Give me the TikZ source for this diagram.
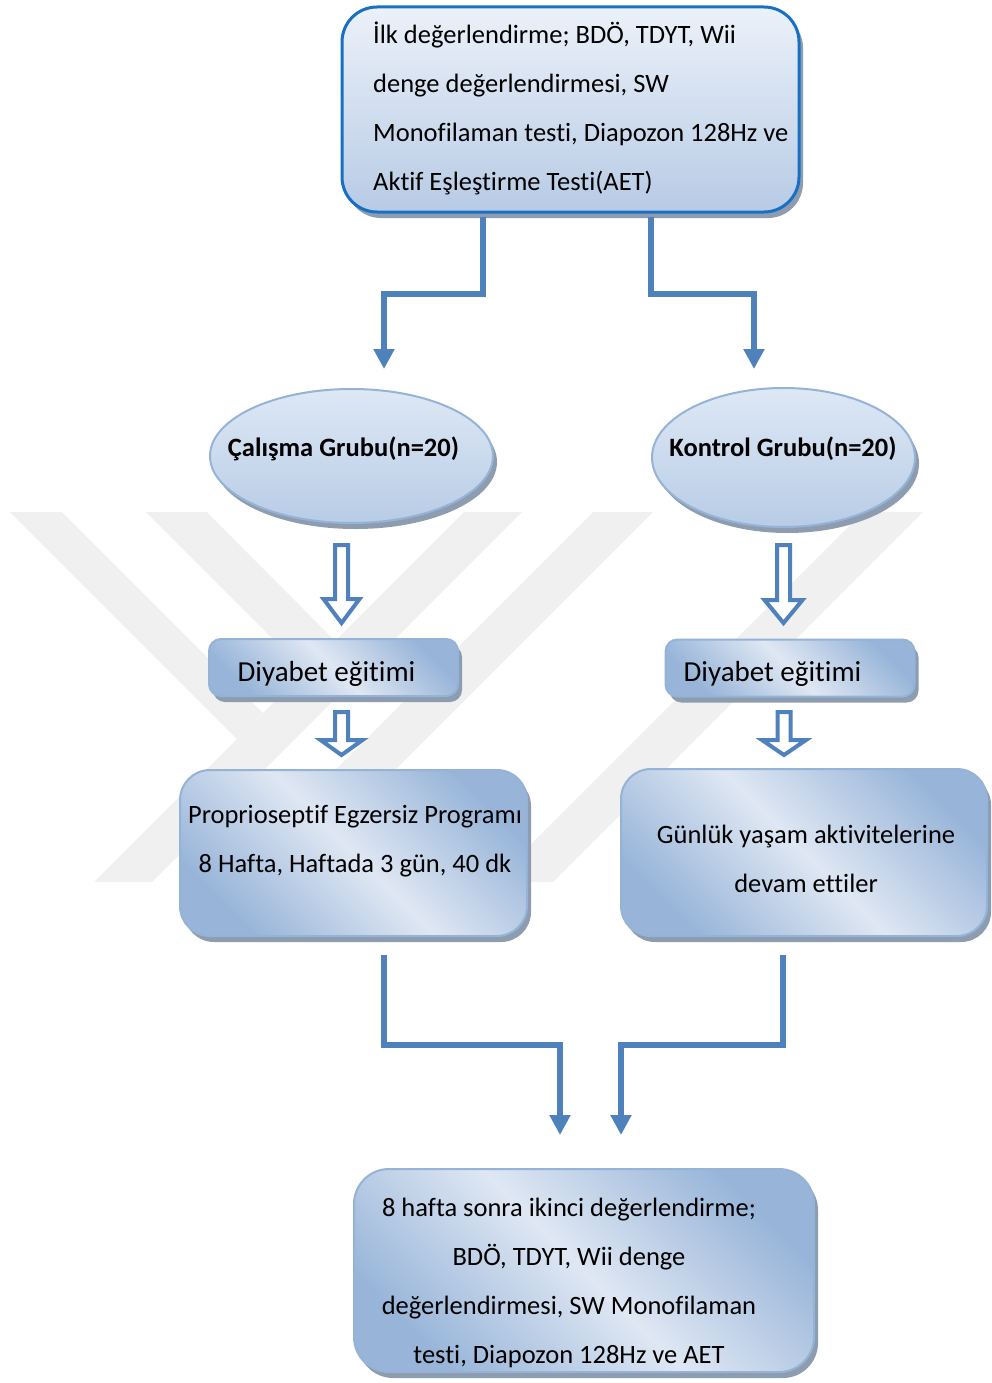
\documentclass[tikz,border=0pt]{standalone}
\usepackage{fontspec}
\setmainfont{Carlito}[Ligatures=NoCommon]
\usetikzlibrary{arrows.meta,shapes.geometric,shadows}

\definecolor{linkblue}{RGB}{79,129,189}
\definecolor{frameblue}{RGB}{24,112,196}
\definecolor{edgeblue}{RGB}{149,179,215}
\definecolor{shadegray}{RGB}{142,156,176}
\definecolor{paleblue}{RGB}{223,231,243}
\definecolor{deepblue}{RGB}{152,181,217}
\definecolor{toplight}{RGB}{236,241,249}
\definecolor{topdark}{RGB}{183,203,229}
\definecolor{elltop}{RGB}{222,232,245}
\definecolor{ellbot}{RGB}{184,204,230}
\definecolor{wmgray}{RGB}{240,240,240}

\tikzset{
  conn/.style={draw=linkblue, line width=6pt, -{Triangle[length=20pt,width=20pt]}},
  hollow/.style={draw=linkblue, fill=white, line width=4pt, line join=miter},
  dropsh/.style={drop shadow={shadow xshift=4pt, shadow yshift=-6pt, fill=shadegray, opacity=1}},
  topbox/.style={dropsh, rectangle, rounded corners=35pt, draw=frameblue, line width=3pt,
    top color=toplight, bottom color=topdark, inner sep=0pt},
  grpell/.style={dropsh, ellipse, draw=edgeblue, line width=2pt,
    top color=elltop, bottom color=ellbot, inner sep=0pt},
  stepbox/.style={dropsh, rectangle, draw=edgeblue, line width=2pt, inner sep=0pt,
    top color=deepblue, bottom color=deepblue, middle color=paleblue, shading angle=-45},
  txt/.style={font=\fontsize{26.5}{49}\selectfont, inner sep=0pt, align=center},
  boldtxt/.style={font=\fontsize{26.5}{49}\selectfont\bfseries, inner sep=0pt},
}

% hollow block arrow: x, top, head start, tip, half head width
\newcommand{\blockarrow}[5]{%
  \draw[hollow] (#1-6.5,#2) -- (#1+6.5,#2) -- (#1+6.5,#3) -- (#1+#5,#3) -- (#1,#4)
    -- (#1-#5,#3) -- (#1-6.5,#3) -- cycle;}

\begin{document}
\begin{tikzpicture}[x=1pt,y=-1pt]
\useasboundingbox (0,0) rectangle (992,1383);

% faint background watermark
\fill[wmgray] (10,512) -- (62,512) -- (263,713) -- (237,739) -- cycle;
\fill[wmgray] (146,512) -- (207,512) -- (335,641) -- (305,671) -- cycle;
\fill[wmgray] (464,512) -- (522,512) -- (152,882) -- (94,882) -- cycle;
\fill[wmgray] (593,512) -- (653,512) -- (283,882) -- (223,882) -- cycle;
\fill[wmgray] (863,512) -- (923,512) -- (553,882) -- (493,882) -- cycle;

% first assessment
\node[topbox, minimum width=457pt, minimum height=205pt] (ilk) at (570.5,109.5) {};
\node[txt, align=left, anchor=west] (ilktxt) at (373,108)
  {İlk değerlendirme; BDÖ, TDYT, Wii\\denge değerlendirmesi, SW\\Monofilaman testi, Diapozon 128Hz ve\\Aktif Eşleştirme Testi(AET)};

% groups
\node[grpell, minimum width=283pt, minimum height=134pt] (cg) at (351.5,456) {};
\node[boldtxt] (cgtxt) at (343.5,449) {Çalışma Grubu(n=20)};
\node[grpell, minimum width=263pt, minimum height=139pt] (kg) at (783.5,457.5) {};
\node[boldtxt] (kgtxt) at (783,449) {Kontrol Grubu(n=20)};

% education
\node[stepbox, rounded corners=12pt, minimum width=249pt, minimum height=57pt] (de1) at (333.5,667.5) {};
\node[txt, font=\fontsize{29}{35}\selectfont] (de1txt) at (326.5,674) {Diyabet eğitimi};
\node[stepbox, rounded corners=12pt, minimum width=249pt, minimum height=57pt] (de2) at (790,668) {};
\node[txt, font=\fontsize{29}{35}\selectfont] (de2txt) at (772.5,674) {Diyabet eğitimi};

% programmes
\node[stepbox, rounded corners=30pt, minimum width=347pt, minimum height=166pt] (pe) at (353.5,853) {};
\node[txt] (petxt) at (355,841) {Proprioseptif Egzersiz Programı\\8 Hafta, Haftada 3 gün, 40 dk};
\node[stepbox, rounded corners=30pt, minimum width=366pt, minimum height=167pt] (gy) at (804,852.5) {};
\node[txt] (gytxt) at (806,859) {Günlük yaşam aktivitelerine\\devam ettiler};

% second assessment
\node[stepbox, rounded corners=35pt, minimum width=460pt, minimum height=203pt] (son) at (584,1270.5) {};
\node[txt] (sontxt) at (569,1283)
  {8 hafta sonra ikinci değerlendirme;\\BDÖ, TDYT, Wii denge\\değerlendirmesi, SW Monofilaman\\testi, Diapozon 128Hz ve AET};

% elbow connectors
\coordinate (cgin) at (384,369);
\coordinate (kgin) at (754,369);
\draw[conn] ([xshift=-87.5pt,yshift=-3pt]ilk.south) -- ++(0,77) -| (cgin);
\draw[conn] ([xshift=80.5pt,yshift=-3pt]ilk.south) -- ++(0,77) -| (kgin);

\coordinate (peout) at (383.5,955);
\coordinate (gyout) at (783,955);
\coordinate (sonin1) at (560,1135);
\coordinate (sonin2) at (621,1135);
\draw[conn] (peout) -- ++(0,90) -| (sonin1);
\draw[conn] (gyout) -- ++(0,90) -| (sonin2);

% hollow arrows
\blockarrow{341.5}{545}{599}{623}{18}
\blockarrow{341.5}{712}{740}{755}{21}
\blockarrow{783.5}{545}{600}{623}{19}
\blockarrow{784}{712}{740}{755}{22}
\end{tikzpicture}
\end{document}
